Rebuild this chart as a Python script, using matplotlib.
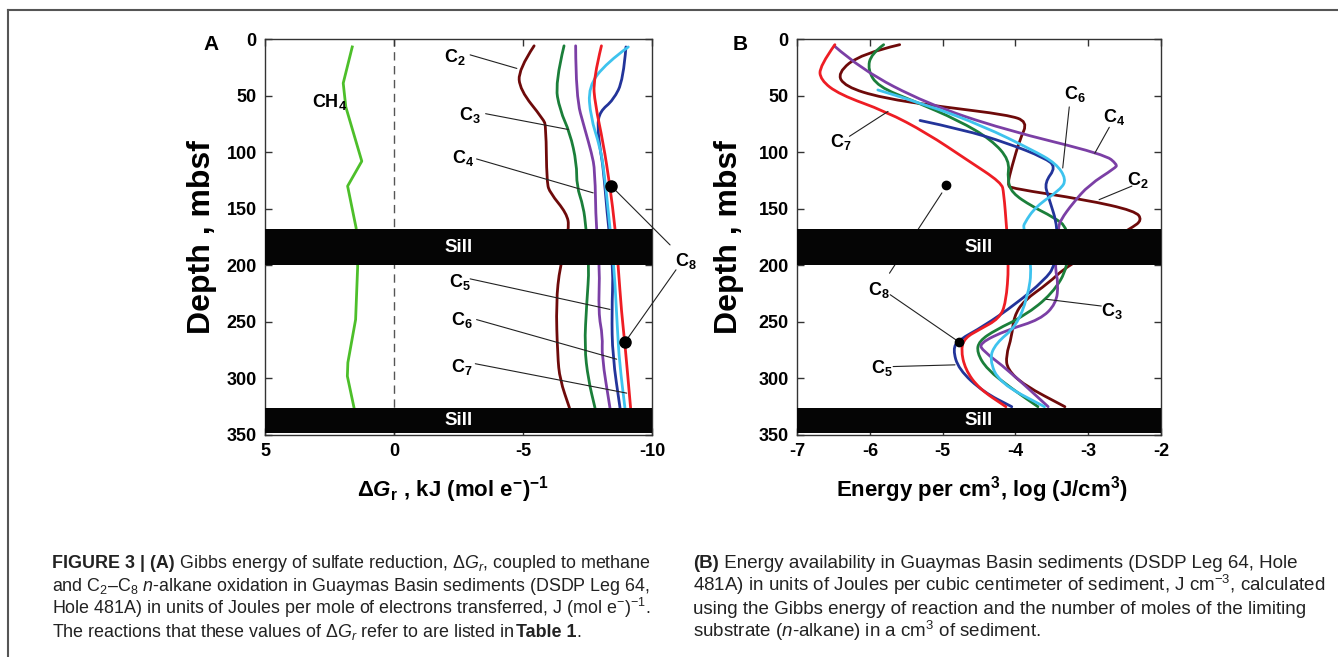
import matplotlib
matplotlib.use("Agg")
import matplotlib.pyplot as plt
from matplotlib import font_manager
from matplotlib.lines import Line2D
from matplotlib.path import Path
from matplotlib.patches import PathPatch

plt.rcParams['font.family'] = ['Liberation Sans', 'DejaVu Sans']
plt.rcParams['axes.unicode_minus'] = False
plt.rcParams['mathtext.fontset'] = 'custom'
plt.rcParams['mathtext.rm'] = 'Liberation Sans'
plt.rcParams['mathtext.it'] = 'Liberation Sans:italic'
plt.rcParams['mathtext.bf'] = 'Liberation Sans:bold'
plt.rcParams['mathtext.bfit'] = 'Liberation Sans:bold:italic'

installed = {f.name for f in font_manager.fontManager.ttflist}
if 'Liberation Sans Narrow' in installed:
    cap_font, cap_left, cap_right = ['Liberation Sans Narrow', 'DejaVu Sans'], 12, 12.5
else:
    cap_font, cap_left, cap_right = ['Liberation Sans', 'DejaVu Sans'], 12.9, 13.5

# ---- panel A: Gibbs energy, kJ (mol e-)^-1 vs depth (mbsf)
ch4_depth = [7, 39, 60, 108, 130, 167, 201, 248, 286, 298, 326]
ch4_dg = [1.62, 1.97, 1.87, 1.25, 1.80, 1.47, 1.41, 1.49, 1.79, 1.81, 1.55]

a_c2_depth = [6, 27, 45, 71, 77, 127, 136, 154, 167, 201, 233, 280, 301, 326]
a_c2_dg = [-5.43, -4.82, -4.88, -5.79, -5.89, -5.92, -6.05, -6.69, -6.80, -6.43, -6.28, -6.34, -6.43, -6.80]

a_c3_depth = [6, 39, 63, 83, 110, 130, 148, 167, 201, 233, 272, 301, 326]
a_c3_dg = [-6.59, -6.24, -6.43, -6.82, -7.08, -7.08, -7.34, -7.44, -7.57, -7.47, -7.38, -7.53, -7.79]

a_c4_depth = [6, 51, 80, 101, 116, 167, 201, 242, 263, 280, 326]
a_c4_dg = [-7.04, -7.05, -7.40, -7.66, -7.79, -7.83, -7.98, -7.92, -8.09, -8.05, -8.37]

a_c5_depth = [7, 36, 54, 64, 77, 101, 113, 167, 201, 242, 280, 326]
a_c5_dg = [-8.99, -8.89, -8.50, -7.98, -7.88, -8.01, -8.11, -8.31, -8.50, -8.44, -8.47, -8.76]

a_c6_depth = [7, 21, 42, 69, 95, 116, 167, 201, 257, 286, 326]
a_c6_dg = [-9.08, -8.24, -7.53, -7.62, -7.98, -8.14, -8.37, -8.53, -8.66, -8.74, -8.95]

a_c7_depth = [6, 36, 57, 92, 130, 167, 201, 242, 269, 326]
a_c7_dg = [-8.04, -7.72, -7.79, -8.11, -8.37, -8.57, -8.69, -8.82, -8.95, -9.17]

a_c8_depth = [129.5, 268]
a_c8_dg = [-8.40, -8.95]

# ---- panel B: log energy per cm3 vs depth
b_c2_depth = [5, 13, 30, 42, 52, 60, 67, 73, 89, 113, 129, 132, 142, 152, 160, 167,
              201, 216, 231, 245, 263, 280, 292, 306, 325]
b_c2_e = [-5.59, -6.12, -6.45, -6.34, -5.84, -5.00, -4.11, -3.83, -3.94, -4.05, -4.11, -4.05,
          -3.04, -2.35, -2.26, -2.40, -3.30, -3.55, -3.88, -4.02, -4.05, -4.13, -4.11, -3.88, -3.32]

b_c3_depth = [5, 13, 27, 42, 55, 72, 89, 107, 124, 136, 148, 157, 167,
              201, 225, 245, 257, 267, 277, 292, 309, 325]
b_c3_e = [-5.81, -5.98, -6.03, -5.89, -5.39, -4.78, -4.33, -4.08, -4.11, -4.05, -3.77, -3.49, -3.27,
          -3.27, -3.49, -3.88, -4.27, -4.50, -4.53, -4.39, -4.05, -3.69]

b_c4_depth = [6, 27, 57, 80, 102, 111, 114, 129, 145, 160, 167,
              201, 216, 234, 248, 257, 269, 276, 292, 325]
b_c4_e = [-6.49, -6.12, -5.22, -4.16, -2.77, -2.60, -2.63, -2.99, -3.21, -3.38, -3.41,
          -3.46, -3.41, -3.44, -3.66, -4.11, -4.50, -4.44, -4.11, -3.55]

b_c5_depth = [72, 80, 92, 105, 113, 127, 139, 167, 200, 213, 234, 254, 266, 274, 292, 312, 325]
b_c5_e = [-5.31, -4.72, -4.11, -3.60, -3.44, -3.60, -3.55, -3.41, -3.45, -3.60, -3.99, -4.44,
          -4.78, -4.86, -4.78, -4.44, -4.05]

b_c6_depth = [45, 58, 77, 98, 110, 124, 133, 148, 163, 167, 201, 228, 254, 269, 283, 304, 325]
b_c6_e = [-5.89, -5.22, -4.44, -3.77, -3.44, -3.30, -3.38, -3.72, -3.88, -3.89, -3.77, -3.83,
          -3.99, -4.27, -4.36, -4.22, -3.60]

b_c7_depth = [5, 24, 36, 49, 64, 83, 107, 127, 136, 167, 200, 233, 247, 257, 264, 274, 292, 309, 325]
b_c7_e = [-6.48, -6.69, -6.68, -6.42, -5.78, -5.22, -4.66, -4.19, -4.16, -4.12, -4.09, -4.13,
          -4.22, -4.50, -4.69, -4.75, -4.69, -4.50, -4.13]

b_c8_depth = [129.4, 268]
b_c8_e = [-4.96, -4.77]

sills = [(168, 200), (326, 348)]

colors = {'CH4': '#4dbf2a', 'C2': '#6e0a0a', 'C3': '#1b7f3a', 'C4': '#7b3fa5',
          'C5': '#23349a', 'C6': '#3ec3ee', 'C7': '#ee1d24'}

fig = plt.figure(figsize=(13.38, 6.57), dpi=100)
axA = fig.add_axes([0.1981, 0.3379, 0.2892, 0.6027])
axB = fig.add_axes([0.5957, 0.3379, 0.2720, 0.6027])


def style_axis(ax):
    for sp in ax.spines.values():
        sp.set_color('#333333')
        sp.set_linewidth(1.0)
    ax.tick_params(direction='in', length=5, width=1, top=True, right=True,
                   labelsize=13, pad=6, colors='#333333', labelcolor='black')
    ax.set_ylim(350, 0)
    ax.set_yticks(range(0, 351, 50))
    for lab in ax.get_xticklabels() + ax.get_yticklabels():
        lab.set_fontweight('bold')
    for top, bot in sills:
        ax.axhspan(top, bot, color='#050505', zorder=5, lw=0)
        ax.text(0.5, (top + bot) / 2, 'Sill', transform=ax.get_yaxis_transform(),
                color='white', fontsize=13.5, fontweight='bold', ha='center', va='center', zorder=6)


def smooth(ax, x, y, color, lw=2.0):
    # quadratic curve through midpoints, read points act as control points
    pts = list(zip(x, y))
    verts, codes = [pts[0]], [Path.MOVETO]
    for i in range(1, len(pts) - 1):
        mid = ((pts[i][0] + pts[i + 1][0]) / 2, (pts[i][1] + pts[i + 1][1]) / 2)
        verts += [pts[i], mid]
        codes += [Path.CURVE3, Path.CURVE3]
    verts.append(pts[-1])
    codes.append(Path.LINETO)
    ax.add_patch(PathPatch(Path(verts, codes), fill=False, edgecolor=color, lw=lw,
                           capstyle='round', joinstyle='round', zorder=2))


def leader(ax, text, tpos, start, end):
    if text:
        ax.text(tpos[0], tpos[1], text, fontsize=13, ha='center', va='center',
                clip_on=False, zorder=7)
    ax.annotate('', xy=end, xytext=start, annotation_clip=False,
                arrowprops=dict(arrowstyle='-', color='#222222', lw=0.8,
                                shrinkA=0, shrinkB=0), zorder=3)


# ---- panel A
axA.set_xlim(5, -10)
axA.set_xticks([5, 0, -5, -10])
axA.axvline(0, color='#555555', lw=1, dashes=(6, 4), zorder=1)
lw = 2.0
axA.plot(ch4_dg, ch4_depth, color=colors['CH4'], lw=lw)
smooth(axA, a_c2_dg, a_c2_depth, colors['C2'])
smooth(axA, a_c3_dg, a_c3_depth, colors['C3'])
smooth(axA, a_c4_dg, a_c4_depth, colors['C4'])
smooth(axA, a_c5_dg, a_c5_depth, colors['C5'])
smooth(axA, a_c6_dg, a_c6_depth, colors['C6'])
smooth(axA, a_c7_dg, a_c7_depth, colors['C7'])
axA.plot(a_c8_dg, a_c8_depth, 'o', color='black', ms=8, zorder=4)
style_axis(axA)

axA.text(2.48, 56, r'$\mathbf{CH_4}$', fontsize=13, ha='center', va='center')
leader(axA, r'$\mathbf{C_2}$', (-2.36, 16), (-2.95, 14), (-4.76, 26))
leader(axA, r'$\mathbf{C_3}$', (-2.95, 67), (-3.55, 66), (-6.76, 80))
leader(axA, r'$\mathbf{C_4}$', (-2.67, 105), (-3.2, 106), (-7.72, 136))
leader(axA, r'$\mathbf{C_8}$', (-11.3, 196), (-10.7, 182), (-8.40, 129.5))
leader(axA, '', None, (-10.93, 204), (-8.95, 268))
leader(axA, r'$\mathbf{C_5}$', (-2.56, 215), (-2.95, 212), (-8.37, 239))
leader(axA, r'$\mathbf{C_6}$', (-2.64, 248), (-3.2, 248), (-8.63, 283))
leader(axA, r'$\mathbf{C_7}$', (-2.64, 290), (-3.15, 287), (-9.02, 313))

axA.set_xlabel(r'Δ$\mathbfit{G}_{\mathbf{r}}$ , kJ (mol e$^{\mathbf{-}}$)$^{\mathbf{-1}}$',
               fontsize=16, fontweight='bold')
axA.xaxis.set_label_coords(0.486, -0.10)
axA.set_ylabel('Depth , mbsf', fontsize=23, fontweight='bold')
axA.yaxis.set_label_coords(-0.125, 0.5)

# ---- panel B
axB.set_xlim(-7, -2)
axB.set_xticks([-7, -6, -5, -4, -3, -2])
smooth(axB, b_c2_e, b_c2_depth, colors['C2'])
smooth(axB, b_c3_e, b_c3_depth, colors['C3'])
smooth(axB, b_c4_e, b_c4_depth, colors['C4'])
smooth(axB, b_c5_e, b_c5_depth, colors['C5'])
smooth(axB, b_c6_e, b_c6_depth, colors['C6'])
smooth(axB, b_c7_e, b_c7_depth, colors['C7'])
axB.plot(b_c8_e, b_c8_depth, 'o', color='black', ms=6, zorder=4)
style_axis(axB)

leader(axB, r'$\mathbf{C_7}$', (-6.40, 91), (-6.28, 86), (-5.75, 64))
leader(axB, r'$\mathbf{C_6}$', (-3.18, 49), (-3.26, 60), (-3.35, 114))
leader(axB, r'$\mathbf{C_4}$', (-2.65, 69), (-2.71, 78), (-2.91, 101))
leader(axB, r'$\mathbf{C_2}$', (-2.32, 125), (-2.40, 130), (-2.85, 142))
leader(axB, '', None, (-5.01, 136), (-5.73, 207))
leader(axB, r'$\mathbf{C_8}$', (-5.87, 222), (-5.72, 226), (-4.77, 268))
leader(axB, r'$\mathbf{C_3}$', (-2.68, 240), (-2.82, 236), (-3.58, 230))
leader(axB, r'$\mathbf{C_5}$', (-5.84, 291), (-5.68, 289.5), (-4.83, 288))

axB.set_xlabel(r'Energy per cm$^{\mathbf{3}}$, log (J/cm$^{\mathbf{3}}$)', fontsize=16, fontweight='bold')
axB.xaxis.set_label_coords(0.508, -0.10)
axB.set_ylabel('Depth , mbsf', fontsize=23, fontweight='bold')
axB.yaxis.set_label_coords(-0.146, 0.5)

fig.text(211 / 1338, 1 - 45 / 657, 'A', fontsize=15, fontweight='bold', ha='center', va='center')
fig.text(740 / 1338, 1 - 45 / 657, 'B', fontsize=15, fontweight='bold', ha='center', va='center')

# frame lines
fig.add_artist(Line2D([8 / 1338, 1], [1 - 10 / 657] * 2, color='#555555', lw=1.5))
fig.add_artist(Line2D([8 / 1338] * 2, [0, 1 - 10 / 657], color='#555555', lw=1.5))

# ---- caption
renderer = fig.canvas.get_renderer()


def put_line(x0, ypix, segs, size):
    x = x0 / 1338
    y = 1 - ypix / 657
    for s, w in segs:
        t = fig.text(x, y, s, fontsize=size, fontweight=w, family=cap_font,
                     va='baseline', color='#222222')
        x += t.get_window_extent(renderer).width / fig.bbox.width


left_lines = [
    [('FIGURE 3 | (A)', 'bold'),
     (r' Gibbs energy of sulfate reduction, $\Delta G_r$, coupled to methane', 'normal')],
    [(r'and C$_2$–C$_8$ $n$-alkane oxidation in Guaymas Basin sediments (DSDP Leg 64,', 'normal')],
    [(r'Hole 481A) in units of Joules per mole of electrons transferred, J (mol e$^{-}$)$^{-1}$.', 'normal')],
    [(r'The reactions that these values of $\Delta G_r$ refer to are listed in ', 'normal'),
     ('Table 1', 'bold'), ('.', 'normal')],
]
right_lines = [
    [('(B)', 'bold'), (' Energy availability in Guaymas Basin sediments (DSDP Leg 64, Hole', 'normal')],
    [(r'481A) in units of Joules per cubic centimeter of sediment, J cm$^{-3}$, calculated', 'normal')],
    [('using the Gibbs energy of reaction and the number of moles of the limiting', 'normal')],
    [(r'substrate ($n$-alkane) in a cm$^3$ of sediment.', 'normal')],
]
for i, segs in enumerate(left_lines):
    put_line(52, 568 + 23 * i, segs, cap_left)
for i, segs in enumerate(right_lines):
    put_line(693, 568 + 23 * i, segs, cap_right)

fig.savefig('out.png', dpi=100)
